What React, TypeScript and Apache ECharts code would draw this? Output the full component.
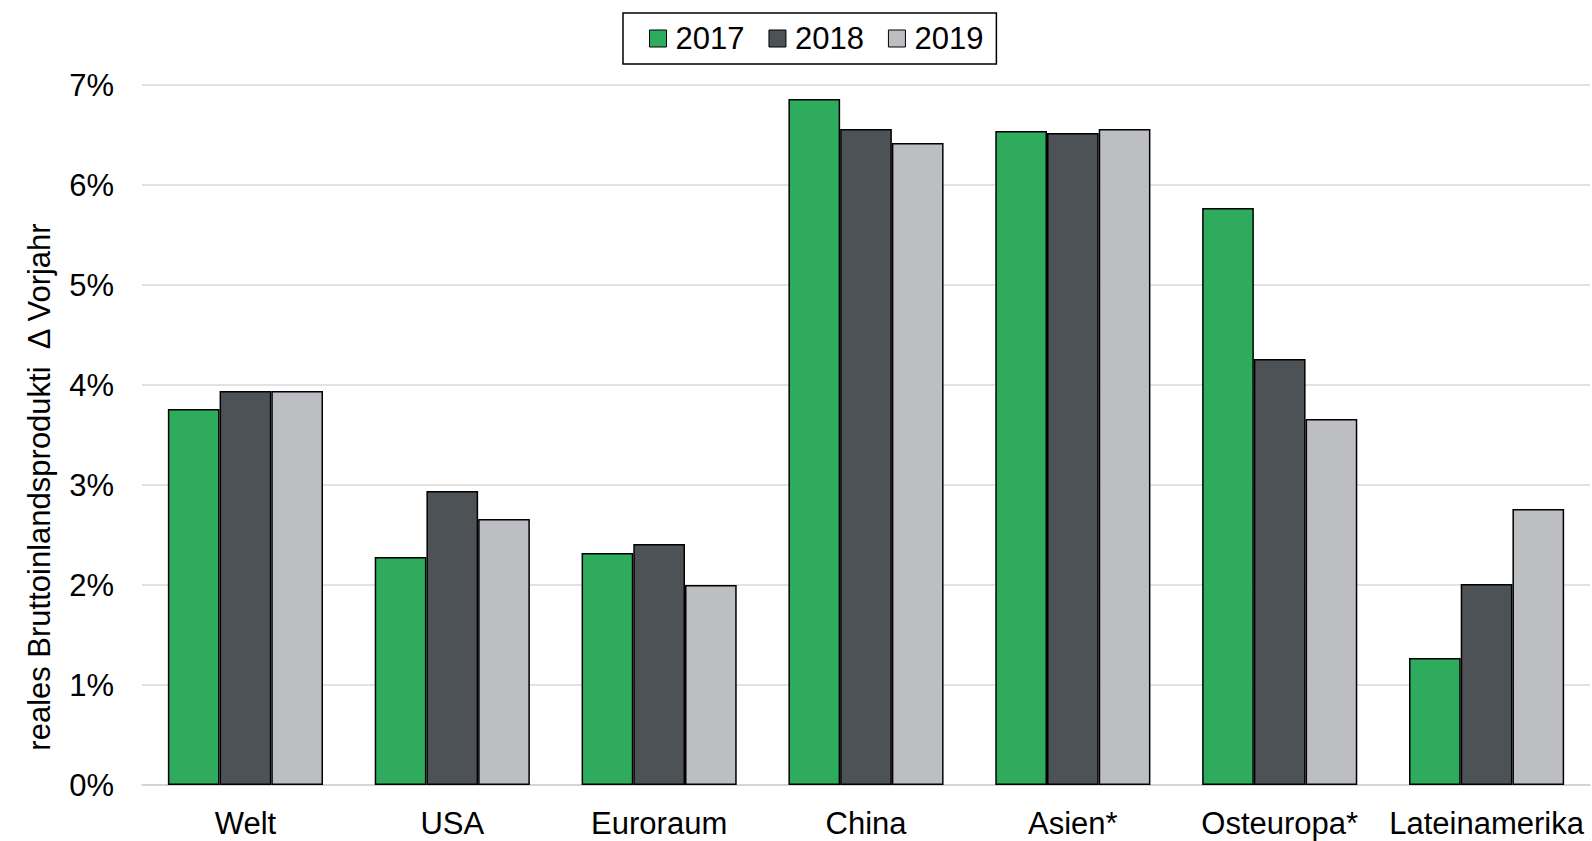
import React, { useEffect, useRef } from "react";
import * as echarts from "echarts";

const categories = ["Welt", "USA", "Euroraum", "China", "Asien*", "Osteuropa*", "Lateinamerika"];
const years = ["2017", "2018", "2019"];
const values2017 = [3.76, 2.28, 2.32, 6.86, 6.54, 5.77, 1.27];
const values2018 = [3.94, 2.94, 2.41, 6.56, 6.52, 4.26, 2.01];
const values2019 = [3.94, 2.66, 2.0, 6.42, 6.56, 3.66, 2.76];
const colors = ["#2eab5c", "#4d5256", "#bcbec2"];
const yTicks = { min: 0, max: 7, interval: 1 };
const yAxisTitle = "reales Bruttoinlandsprodukti  Δ Vorjahr";

export default function App() {
  const ref = useRef<HTMLDivElement>(null);
  useEffect(() => {
    if (!ref.current) return;
    const chart = echarts.init(ref.current, null, { renderer: "svg" });
    const font = "'Liberation Sans', Arial, sans-serif";
    const seriesData = [values2017, values2018, values2019];
    chart.setOption({
      animation: false,
      backgroundColor: "#ffffff",
      textStyle: { fontFamily: font },
      legend: {
        top: 13,
        left: 623,
        orient: "horizontal",
        data: years,
        icon: "rect",
        itemWidth: 17,
        itemHeight: 17,
        itemGap: 24,
        padding: [10, 13, 10, 26],
        borderColor: "#000",
        borderWidth: 1.5,
        textStyle: { fontSize: 31, color: "#000", fontFamily: font, padding: [0, 0, 0, 4] },
        itemStyle: { borderColor: "#000", borderWidth: 1 },
      },
      grid: { left: 142, right: 2, top: 85, bottom: 56, containLabel: false },
      xAxis: {
        type: "category",
        data: categories,
        axisLine: { lineStyle: { color: "#d0d0d0", width: 1.5 } },
        axisTick: { show: false },
        axisLabel: { fontSize: 31, lineHeight: 31, color: "#000", margin: 23, interval: 0, fontFamily: font },
      },
      yAxis: {
        type: "value",
        min: yTicks.min,
        max: yTicks.max,
        interval: yTicks.interval,
        axisLine: { show: false },
        axisTick: { show: false },
        splitLine: { lineStyle: { color: "#d9d9d9", width: 1.5 } },
        axisLabel: { fontSize: 31, color: "#000", margin: 28, formatter: "{value}%", fontFamily: font },
      },
      graphic: [
        {
          type: "text",
          x: 39,
          y: 487,
          rotation: Math.PI / 2,
          style: {
            text: yAxisTitle,
            fontSize: 31,
            fontFamily: "'Liberation Sans Narrow', 'Liberation Sans', sans-serif",
            fill: "#000",
            textAlign: "center",
            textVerticalAlign: "middle",
          },
        },
      ],
      series: years.map((y, i) => ({
        name: y,
        type: "bar",
        data: seriesData[i],
        barGap: "0%",
        barCategoryGap: "25%",
        itemStyle: { color: colors[i], borderColor: "#000", borderWidth: 1.5 },
      })),
    });
    return () => chart.dispose();
  }, []);
  return (
    <div
      ref={ref}
      style={{ position: "fixed", left: 0, top: 0, width: 1592, height: 841 }}
    />
  );
}
